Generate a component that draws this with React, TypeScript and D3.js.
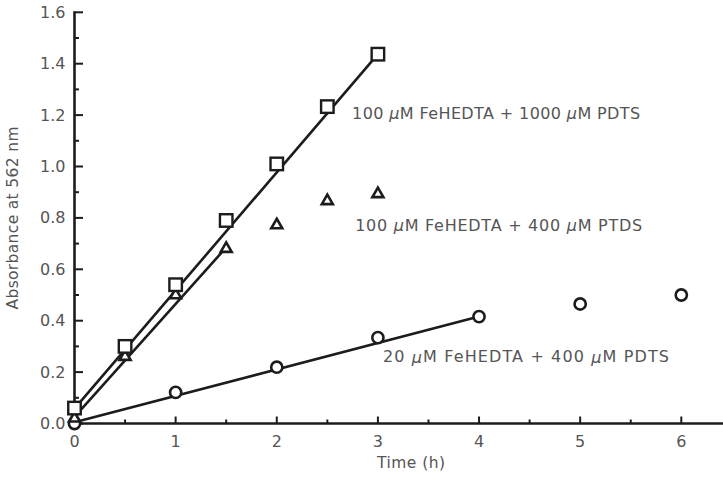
import React from "react";
import * as d3 from "d3";

const timesSquare = [0, 0.5, 1, 1.5, 2, 2.5, 3];
const absSquare = [0.06, 0.3, 0.54, 0.79, 1.01, 1.233, 1.437];
const timesTriangle = [0, 0.5, 1, 1.5, 2, 2.5, 3];
const absTriangle = [0.02, 0.26, 0.5, 0.68, 0.772, 0.866, 0.893];
const timesCircle = [0, 1, 2, 3, 4, 5, 6];
const absCircle = [0.0, 0.121, 0.219, 0.334, 0.416, 0.465, 0.5];

// fitted lines: [startTime, endTime] and [startAbs, endAbs]
const fitSquareT = [0, 3];
const fitSquareA = [0.058, 1.437];
const fitTriangleT = [0, 1.5];
const fitTriangleA = [0.026, 0.685];
const fitCircleT = [0, 4];
const fitCircleA = [0.005, 0.416];

const xTickLabels = ["0", "1", "2", "3", "4", "5", "6"];
const yTickLabels = ["0.0", "0.2", "0.4", "0.6", "0.8", "1.0", "1.2", "1.4", "1.6"];

const W = 723;
const H = 478;
const FONT = "'DejaVu Sans', 'Liberation Sans', sans-serif";
const INK = "#1c1c1c";
const TXT = "#555";

function Mu() {
  return <tspan fontStyle="italic">μ</tspan>;
}

export default function App() {
  const x = d3.scaleLinear().domain([0, 6]).range([74.5, 681.3]);
  const y = d3.scaleLinear().domain([0, 1.6]).range([423.5, 12.3]);
  const line = d3
    .line<[number, number]>()
    .x((d) => x(d[0]))
    .y((d) => y(d[1]));

  const xMajor = xTickLabels.map((t) => +t);
  const xMinor = d3.range(0.5, 6.5, 1);
  const yMajor = yTickLabels.map((t) => +t);
  const yMinor = d3.range(0.1, 1.6, 0.2);

  const sq = 12.5;
  const triPath = (cx: number, cy: number) => {
    const s = 11;
    const h = s * 0.866;
    return `M${cx},${cy - (2 * h) / 3}L${cx + s / 2},${cy + h / 3}L${cx - s / 2},${cy + h / 3}Z`;
  };

  const fits: [number[], number[]][] = [
    [fitSquareT, fitSquareA],
    [fitTriangleT, fitTriangleA],
    [fitCircleT, fitCircleA],
  ];

  return (
    <svg
      width={W}
      height={H}
      style={{ position: "absolute", left: 0, top: 0, background: "#fff" }}
    >
      {/* axes */}
      <line x1={x(0)} x2={W} y1={y(0)} y2={y(0)} stroke={INK} strokeWidth={2.6} />
      <line x1={x(0)} x2={x(0)} y1={y(0)} y2={y(1.6) - 1} stroke={INK} strokeWidth={2.6} />
      {xMajor.map((v, i) => (
        <g key={"xm" + i}>
          <line x1={x(v)} x2={x(v)} y1={y(0)} y2={y(0) - 7} stroke={INK} strokeWidth={2} />
          <text
            x={x(v)}
            y={y(0) + 18}
            textAnchor="middle"
            dominantBaseline="central"
            fontFamily={FONT}
            fontSize={16}
            fill={TXT}
          >
            {xTickLabels[i]}
          </text>
        </g>
      ))}
      {xMinor.map((v, i) => (
        <line key={"xn" + i} x1={x(v)} x2={x(v)} y1={y(0)} y2={y(0) - 4} stroke={INK} strokeWidth={2} />
      ))}
      {yMajor.map((v, i) => (
        <g key={"ym" + i}>
          <line x1={x(0)} x2={x(0) + 8.5} y1={y(v)} y2={y(v)} stroke={INK} strokeWidth={2} />
          <text
            x={x(0) - 9}
            y={y(v)}
            textAnchor="end"
            dominantBaseline="central"
            fontFamily={FONT}
            fontSize={16}
            fill={TXT}
          >
            {yTickLabels[i]}
          </text>
        </g>
      ))}
      {yMinor.map((v, i) => (
        <line key={"yn" + i} x1={x(0)} x2={x(0) + 4.5} y1={y(v)} y2={y(v)} stroke={INK} strokeWidth={2} />
      ))}
      <text
        transform={`translate(13,${218}) rotate(-90)`}
        textAnchor="middle"
        dominantBaseline="central"
        fontFamily={FONT}
        fontSize={15.5}
        fill={TXT}
        textLength={183}
        lengthAdjust="spacing"
      >
        Absorbance at 562 nm
      </text>
      <text
        x={411}
        y={463}
        textAnchor="middle"
        dominantBaseline="central"
        fontFamily={FONT}
        fontSize={15.5}
        fill={TXT}
        textLength={68}
        lengthAdjust="spacing"
      >
        Time (h)
      </text>

      {/* fitted lines */}
      {fits.map(([t, a], i) => (
        <path
          key={"f" + i}
          d={line(t.map((tv, j) => [tv, a[j]] as [number, number])) || ""}
          fill="none"
          stroke={INK}
          strokeWidth={2.6}
        />
      ))}

      {/* markers */}
      {timesCircle.map((t, i) => (
        <circle key={"c" + i} cx={x(t)} cy={y(absCircle[i])} r={5.6} fill="#fff" stroke={INK} strokeWidth={2.6} />
      ))}
      {timesTriangle.map((t, i) => (
        <path key={"t" + i} d={triPath(x(t), y(absTriangle[i]))} fill="#fff" stroke={INK} strokeWidth={2.6} strokeLinejoin="miter" />
      ))}
      {timesSquare.map((t, i) => (
        <rect
          key={"s" + i}
          x={x(t) - sq / 2}
          y={y(absSquare[i]) - sq / 2}
          width={sq}
          height={sq}
          fill="#fff"
          stroke={INK}
          strokeWidth={2.4}
        />
      ))}

      {/* labels */}
      <text x={x(2.745)} y={y(1.208)} dominantBaseline="central" fontFamily={FONT} fontSize={16} fill={TXT} textLength={288} lengthAdjust="spacing">
        100 <Mu />M FeHEDTA + 1000 <Mu />M PDTS
      </text>
      <text x={x(2.775)} y={y(0.772)} dominantBaseline="central" fontFamily={FONT} fontSize={16} fill={TXT} textLength={287} lengthAdjust="spacing">
        100 <Mu />M FeHEDTA + 400 <Mu />M PTDS
      </text>
      <text x={x(3.05)} y={y(0.259)} dominantBaseline="central" fontFamily={FONT} fontSize={16} fill={TXT} textLength={286} lengthAdjust="spacing">
        20 <Mu />M FeHEDTA + 400 <Mu />M PDTS
      </text>
    </svg>
  );
}
